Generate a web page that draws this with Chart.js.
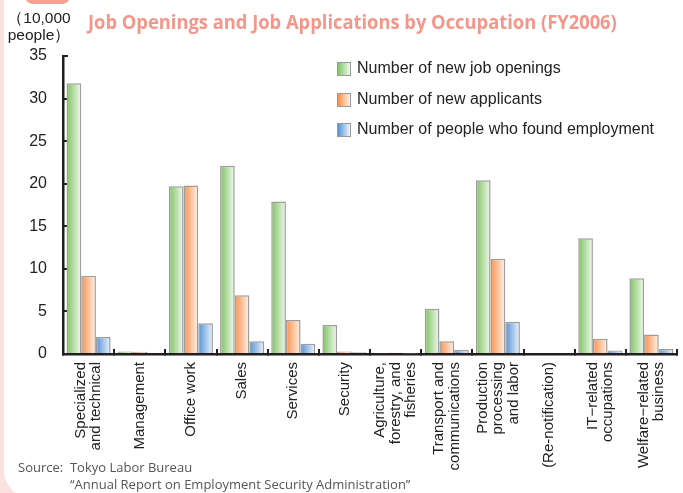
<!DOCTYPE html>
<html>
<head>
<meta charset="utf-8">
<script src="https://cdn.jsdelivr.net/npm/chart.js@4.4.1/dist/chart.umd.min.js"></script>
<style>
  html, body { margin: 0; padding: 0; }
  body { width: 683px; height: 493px; overflow: hidden; position: relative; background: #fbe2de; font-family: "Liberation Sans", Arial, sans-serif; }
  .panel { position: absolute; left: 4px; top: -30px; width: 730px; height: 527px; background: #fff; border-radius: 26px; }
  .tab { position: absolute; left: 25px; top: -12px; width: 45px; height: 16px; background: #f8a193; border-radius: 8px; }
  #c { position: absolute; left: 0; top: 0; }
  .unit { position: absolute; left: 6px; top: 9px; font-size: 15.5px; line-height: 17px; color: #222; text-align: center; width: 66px; }
  .title { position: absolute; left: 88px; top: 8px; font-family: "Open Sans", sans-serif; font-weight: 700; font-size: 19.5px; color: #f4968a; white-space: nowrap; transform-origin: left top; transform: scaleX(0.94); }
  .legend { position: absolute; left: 337px; top: 59px; font-size: 16px; color: #222; }
  .legend div { height: 30.5px; display: flex; align-items: flex-start; }
  .legend span.box { display: inline-block; width: 12px; height: 12px; border: 1px solid #999; margin: 3px 6px 0 0; }
  .source { position: absolute; left: 18px; top: 459px; font-family: "Open Sans", sans-serif; font-size: 13px; line-height: 17px; color: #555; }
</style>
</head>
<body>
<div class="panel"></div>
<div class="tab"></div>
<canvas id="c" width="683" height="493"></canvas>
<div class="unit">（10,000<br>people）</div>
<div class="title">Job Openings and Job Applications by Occupation (FY2006)</div>
<div class="legend" id="legend"></div>
<div class="source">Source:&nbsp;&nbsp;Tokyo Labor Bureau<br><span style="padding-left:52px">“Annual Report on Employment Security Administration”</span></div>
<script>
const categories = [
  ["Specialized", "and technical"],
  ["Management"],
  ["Office work"],
  ["Sales"],
  ["Services"],
  ["Security"],
  ["Agriculture,", "forestry, and", "fisheries"],
  ["Transport and", "communications"],
  ["Production", "processing", "and labor"],
  ["(Re-notification)"],
  ["IT−related", "occupations"],
  ["Welfare−related", "business"]
];
const newOpenings = [31.8, 0.3, 19.7, 22.1, 17.9, 3.4, 0.1, 5.3, 20.4, 0, 13.6, 8.9];
const newApplicants = [9.2, 0.25, 19.8, 6.9, 4.0, 0.3, 0.15, 1.5, 11.2, 0, 1.8, 2.3];
const foundEmployment = [2.0, 0, 3.6, 1.5, 1.2, 0.2, 0.05, 0.5, 3.8, 0, 0.4, 0.6];
const seriesNames = ["Number of new job openings", "Number of new applicants", "Number of people who found employment"];
const yTicks = [0, 5, 10, 15, 20, 25, 30, 35];

const colors = [
  ["#7fc263", "#f2f9ee"],
  ["#fb904a", "#fff3ea"],
  ["#5392d6", "#eef4fb"]
];
const catPct = 0.86;

// horizontal gradient per bar, positioned from the x scale
function barFill(ctx) {
  const c = colors[ctx.datasetIndex];
  const chart = ctx.chart;
  const xs = chart.scales.x;
  if (ctx.type !== "data" || !xs || !xs.width) return c[0];
  const cw = xs.width / categories.length;
  const bw = cw * catPct / 3;
  const left = xs.getPixelForValue(ctx.dataIndex) - 1.5 * bw + ctx.datasetIndex * bw;
  const g = chart.ctx.createLinearGradient(left, 0, left + bw, 0);
  g.addColorStop(0, c[0]);
  g.addColorStop(1, c[1]);
  return g;
}

const xLabels = {
  id: "xLabels",
  afterDraw(chart) {
    const ctx = chart.ctx;
    const xs = chart.scales.x;
    const lh = 15.5;
    ctx.save();
    ctx.fillStyle = "#222";
    ctx.font = "15px 'Liberation Sans', Arial, sans-serif";
    ctx.textAlign = "right";
    ctx.textBaseline = "middle";
    categories.forEach((lines, i) => {
      ctx.save();
      ctx.translate(xs.getPixelForValue(i), chart.chartArea.bottom + 8);
      ctx.rotate(-Math.PI / 2);
      lines.forEach((t, j) => ctx.fillText(t, 0, (j - (lines.length - 1) / 2) * lh));
      ctx.restore();
    });
    ctx.restore();
  }
};

const data = [newOpenings, newApplicants, foundEmployment];
new Chart(document.getElementById("c"), {
  type: "bar",
  data: {
    labels: categories.map(l => l.join(" ")),
    datasets: data.map((d, i) => ({
      label: seriesNames[i],
      data: d,
      backgroundColor: barFill,
      borderColor: "#9d9d9d",
      borderWidth: 1.5,
      borderSkipped: "bottom",
      categoryPercentage: catPct,
      barPercentage: 1
    }))
  },
  options: {
    responsive: false,
    animation: false,
    layout: { padding: { top: 56, right: 6, left: 0, bottom: 0 } },
    plugins: { legend: { display: false }, tooltip: { enabled: false } },
    scales: {
      x: {
        afterFit(s) { s.height = 139; },
        ticks: { display: false },
        grid: { offset: true, drawOnChartArea: false, drawTicks: true, tickLength: -5, color: "#231f20", lineWidth: 2 },
        border: { display: true, color: "#231f20", width: 2.5 }
      },
      y: {
        min: 0,
        max: 35,
        afterFit(s) { s.width = 63; },
        afterBuildTicks(s) { s.ticks = yTicks.map(v => ({ value: v })); },
        ticks: { color: "#222", font: { size: 16, family: "'Liberation Sans', Arial, sans-serif" }, padding: 21 },
        grid: { drawOnChartArea: false, drawTicks: true, tickLength: -5, color: "#231f20", lineWidth: 2 },
        border: { display: true, color: "#231f20", width: 2.5 }
      }
    }
  },
  plugins: [xLabels]
});

const lg = document.getElementById("legend");
seriesNames.forEach((n, i) => {
  const row = document.createElement("div");
  row.innerHTML = '<span class="box" style="background:linear-gradient(to right,' + colors[i][0] + ',' + colors[i][1] + ')"></span>' + n;
  lg.appendChild(row);
});
</script>
</body>
</html>
